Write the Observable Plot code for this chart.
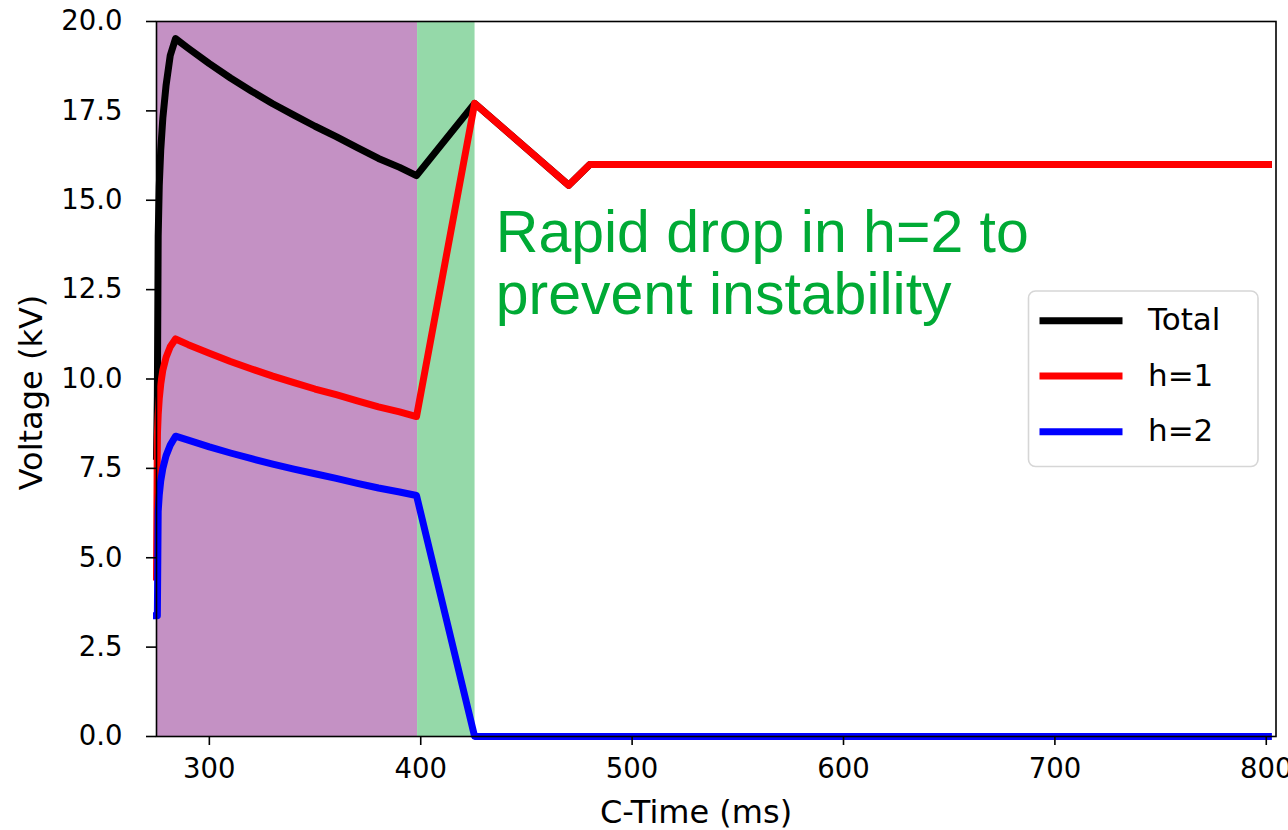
<!DOCTYPE html>
<html>
<head>
<meta charset="utf-8">
<script src="https://cdn.jsdelivr.net/npm/d3@7"></script>
<script src="https://cdn.jsdelivr.net/npm/@observablehq/plot@0.6"></script>
<style>
  body { margin: 0; background: #ffffff; }
  #chart { position: relative; width: 1288px; height: 830px; }
</style>
</head>
<body>
<div id="chart"></div>
<script>
// Sample times (ms)
const time  = [275, 275.4, 275.8, 276.3, 277, 278, 279.5, 281.5, 284, 290, 300, 310, 320, 330, 340, 350, 360, 370, 380, 390, 398, 425.5, 470, 480, 801];
// Harmonic voltages (kV)
const h1    = [4.46, 8.4, 9.0, 9.45, 9.85, 10.25, 10.6, 10.9, 11.12, 10.96, 10.72, 10.49, 10.28, 10.08, 9.90, 9.72, 9.56, 9.39, 9.22, 9.08, 8.95, 17.71, 15.42, 16.0, 16.0];
const h2    = [3.38, 3.38, 6.3, 6.75, 7.15, 7.5, 7.85, 8.15, 8.40, 8.29, 8.10, 7.93, 7.77, 7.62, 7.48, 7.35, 7.22, 7.08, 6.95, 6.84, 6.74, 0, 0, 0, 0];
const total = [7.84, 9.5, 14.0, 15.4, 16.4, 17.3, 18.2, 19.05, 19.52, 19.25, 18.82, 18.42, 18.05, 17.70, 17.38, 17.07, 16.78, 16.47, 16.17, 15.92, 15.69, 17.71, 15.42, 16.0, 16.0];

const seriesNames  = ["Total", "h=1", "h=2"];
const seriesValues = [total, h1, h2];
const seriesColors = ["#000000", "#ff0000", "#0000ff"];

// Shaded phases (ms)
const phaseStart = [275, 398.5];
const phaseEnd   = [398.5, 425.7];
const phaseFill  = ["#c491c4", "#95d9a9"];

const xTicks = [300, 400, 500, 600, 700, 800];
const yTicks = [0, 2.5, 5, 7.5, 10, 12.5, 15, 17.5, 20];

const noteText = "Rapid drop in h=2 to\nprevent instability";
const noteTime = 435.5;
const noteVolt = 11.83;

const phases = phaseStart.map((s, i) => ({start: s, end: phaseEnd[i], fill: phaseFill[i]}));
const series = seriesNames.map((name, k) => ({
  name,
  color: seriesColors[k],
  rows: time.map((t, i) => ({t, v: seriesValues[k][i]}))
}));

const W = 1288, H = 830;
const mL = 156, mR = 12.5, mT = 21, mB = 94;

const plot = Plot.plot({
  width: W,
  height: H,
  marginLeft: mL,
  marginRight: mR,
  marginTop: mT,
  marginBottom: mB,
  style: {fontFamily: "'DejaVu Sans', sans-serif", background: "#ffffff", overflow: "visible"},
  x: {domain: [275, 804.6]},
  y: {domain: [0, 20]},
  marks: [
    ...phases.map(p => Plot.rect([p], {x1: "start", x2: "end", y1: 0, y2: 20, fill: p.fill})),
    ...series.map(s => Plot.line(s.rows, {
      x: "t", y: "v", stroke: s.color, strokeWidth: 7,
      strokeLinejoin: "round", strokeLinecap: "square"
    })),
    Plot.text([noteText], {
      x: noteTime, y: noteVolt, text: d => d,
      textAnchor: "start", lineAnchor: "bottom", lineHeight: 1.044,
      fontSize: 59, fontFamily: "'Liberation Sans', Arial, sans-serif", fill: "#00aa35"
    }),
    Plot.axisX({ticks: xTicks, tickFormat: d => String(d), tickSize: 9, tickPadding: 13,
      fontSize: 27.5, strokeWidth: 1.6, label: null}),
    Plot.axisY({ticks: yTicks, tickFormat: d3.format(".1f"), tickSize: 10, tickPadding: 24,
      fontSize: 27.5, strokeWidth: 1.6, label: null}),
    Plot.frame({stroke: "#000000", strokeWidth: 1.6})
  ]
});

document.getElementById("chart").appendChild(plot);

const svg = d3.select(plot);

// Axis titles
svg.append("text")
  .attr("x", 696).attr("y", 823)
  .attr("text-anchor", "middle")
  .attr("font-size", 32)
  .attr("fill", "#000")
  .text("C-Time (ms)");

svg.append("text")
  .attr("transform", "translate(42,392.5) rotate(-90)")
  .attr("text-anchor", "middle")
  .attr("font-size", 32)
  .attr("fill", "#000")
  .text("Voltage (kV)");

// Legend
const lg = svg.append("g");
lg.append("rect")
  .attr("x", 1028.5).attr("y", 291)
  .attr("width", 229.5).attr("height", 175.5)
  .attr("rx", 7)
  .attr("fill", "#ffffff").attr("fill-opacity", 0.8)
  .attr("stroke", "#d6d6d6").attr("stroke-width", 1.6);
const rowY = [320.7, 376, 431.7];
series.forEach((s, i) => {
  lg.append("line")
    .attr("x1", 1039.5).attr("x2", 1122.5)
    .attr("y1", rowY[i]).attr("y2", rowY[i])
    .attr("stroke", s.color).attr("stroke-width", 7);
  lg.append("text")
    .attr("x", 1148).attr("y", rowY[i] + 9.5)
    .attr("text-anchor", "start")
    .attr("font-size", 31)
    .attr("fill", "#000")
    .text(s.name);
});
</script>
</body>
</html>
